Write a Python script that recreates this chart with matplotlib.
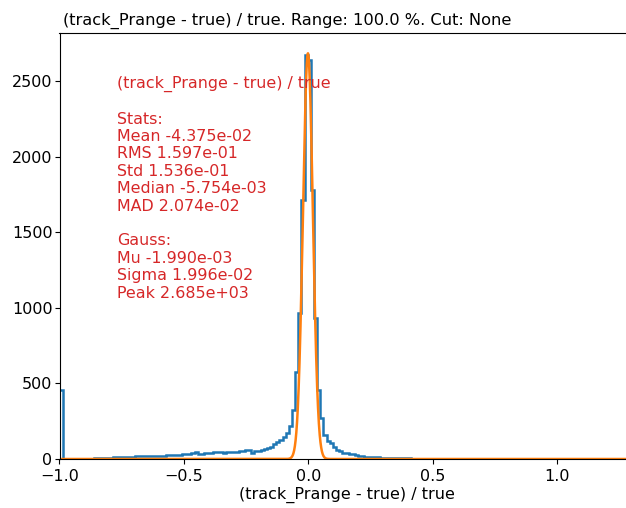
import matplotlib
matplotlib.use("Agg")
import matplotlib.pyplot as plt
import numpy as np

# histogram of (track_Prange - true) / true, fixed bin edges
x_min, x_max = -1.0, 1.31
n_bins = 183
counts = [
    458,
    0, 1, 0, 1, 1, 2, 1, 3, 2, 3, 4,
    5, 6, 7, 8, 9, 10, 11, 13, 12, 14,
    16, 15, 18, 17, 20, 19, 21, 18, 20, 23, 21,
    22, 25, 24, 27, 25, 28, 30, 33, 30, 38, 44, 33,
    36, 38, 40, 42, 44, 48, 45, 43, 46, 44, 48, 47, 52, 55, 58, 62,
    40, 52, 55, 62, 66, 70,
    81, 99, 115, 126, 148, 170, 218, 324, 577, 965, 1713,
    2672, 2639, 1779, 932, 456, 271,
    160, 121, 108, 81, 62, 55, 42, 40, 33, 31, 26, 20, 18, 15, 14, 12, 11,
    10, 9, 8, 8, 7, 6, 6, 5, 5, 4, 4, 3, 3, 2, 3, 2, 1, 2, 1, 1,
]
counts += [0] * (n_bins - len(counts))
counts[124] = 1
counts[131] = 1

# gaussian fit result
g_mu = -1.990e-03
g_sigma = 1.996e-02
g_peak = 2.685e+03

stats_text = ("(track_Prange - true) / true\n\n"
              "Stats:\n"
              "Mean -4.375e-02\n"
              "RMS 1.597e-01\n"
              "Std 1.536e-01\n"
              "Median -5.754e-03\n"
              "MAD 2.074e-02\n\n"
              "Gauss:\n"
              "Mu -1.990e-03\n"
              "Sigma 1.996e-02\n"
              "Peak 2.685e+03")

plt.rcParams["xtick.labelsize"] = 11.5
plt.rcParams["ytick.labelsize"] = 11.5
plt.rcParams["ytick.major.pad"] = 1.5

edges = np.linspace(x_min, x_max, n_bins + 1)

fig = plt.figure(figsize=(6.26, 5.08), dpi=100)
ax = fig.add_axes([59.5 / 626, 49 / 508, 575 / 626, 426 / 508])

ax.hist(edges[:-1], bins=edges, weights=counts, histtype="step", color="C0", lw=1.8)
xs = np.linspace(x_min, x_max, 4000)
ax.plot(xs, g_peak * np.exp(-0.5 * ((xs - g_mu) / g_sigma) ** 2), color="C1", lw=1.8)

ax.set_xlim(x_min, x_max)
ax.set_ylim(0, g_peak * 1.05)
ax.set_xticks([-1.0, -0.5, 0.0, 0.5, 1.0])
ax.set_yticks([0, 500, 1000, 1500, 2000, 2500])

ax.text(0.1, 0.9, stats_text, transform=ax.transAxes, va="top", ha="left",
        color="C3", fontsize=11.4)

ax.set_title("(track_Prange - true) / true. Range: 100.0 %. Cut: None",
             x=0.3965, fontsize=11.7)
ax.set_xlabel("(track_Prange - true) / true", fontsize=11.5, labelpad=2.5)

fig.savefig("out.png", dpi=100)
